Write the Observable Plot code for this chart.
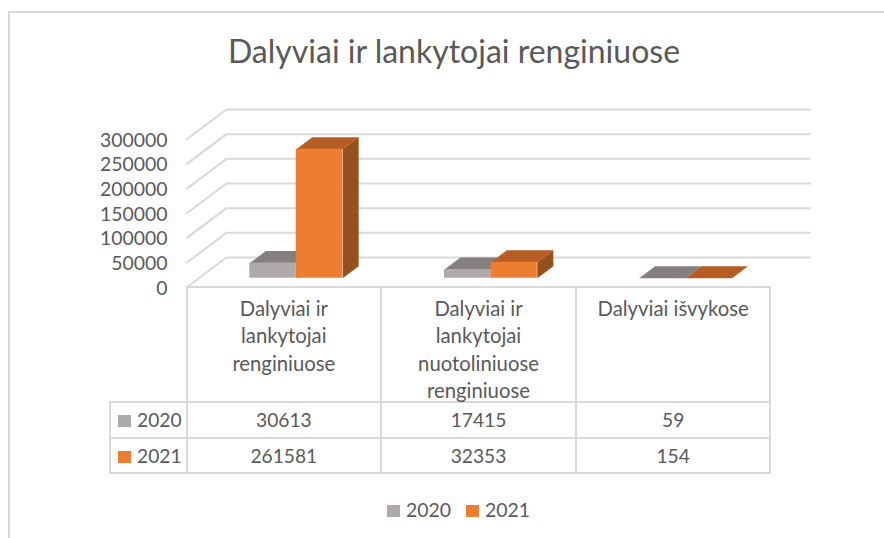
<!DOCTYPE html>
<html>
<head>
<meta charset="utf-8">
<script src="https://cdn.jsdelivr.net/npm/d3@7"></script>
<script src="https://cdn.jsdelivr.net/npm/@observablehq/plot@0.6"></script>
<style>
  html, body { margin: 0; padding: 0; background: #fff; }
  #chart { position: relative; width: 884px; height: 538px; overflow: hidden; font-family: Lato, sans-serif; color: #595959; }
  #frame { position: absolute; left: 8px; top: 11px; width: 900px; height: 600px; border: 2px solid #d9d9d9; box-sizing: border-box; }
  #title { position: absolute; left: 0; top: 31px; width: 908px; text-align: center; font-size: 32px; line-height: 40px; }
  #plot { position: absolute; left: 0; top: 0; }
  #plot svg { overflow: visible; display: block; }
  table { position: absolute; left: 109px; top: 286px; border-collapse: collapse; table-layout: fixed; width: 660.5px; font-size: 19.2px; }
  td { border: 2px solid #d9d9d9; text-align: center; padding: 0; height: 35.5px; box-sizing: border-box; }
  td.blank { border: none; border-right: 2px solid #d9d9d9; border-bottom: 2px solid #d9d9d9; }
  td.cat { height: 113px; vertical-align: top; font-size: 20.3px; }
  td.cat div { height: 106px; padding-top: 7px; white-space: pre-line; line-height: 27.3px; overflow: visible; }
  td.key { text-align: left; padding-left: 7px; white-space: nowrap; }
  .sw { display: inline-block; width: 13px; height: 12px; margin-right: 6px; }
  #legend { position: absolute; left: 387px; top: 498px; font-size: 19.4px; line-height: 24px; white-space: nowrap; }
  #legend span.item { margin-right: 15px; }
</style>
</head>
<body>
<div id="chart">
  <div id="frame"></div>
  <div id="title"></div>
  <div id="plot"></div>
  <div id="tableHost"></div>
  <div id="legend"></div>
</div>
<script>
const chartTitle = "Dalyviai ir lankytojai renginiuose";
const categories = [
  "Dalyviai ir\nlankytojai\nrenginiuose",
  "Dalyviai ir\nlankytojai\nnuotoliniuose\nrenginiuose",
  "Dalyviai išvykose"
];
const seriesNames = ["2020", "2021"];
const values2020 = [30613, 17415, 59];
const values2021 = [261581, 32353, 154];
const yTicks = [0, 50000, 100000, 150000, 200000, 250000, 300000];

const seriesValues = [values2020, values2021];
const frontColors = ["#aeaaaa", "#ed7d31"];
const topColors = ["#84807f", "#b55d22"];
const sideColors = ["#6e6b6b", "#96501c"];

// Oblique projection of the 3-D box, in data units of the two scales
const depthX = 0.2055, depthY = 60800;
const barW = 0.2385, barStart = 0.2615, dFront = 0.31, dBack = 0.71, wallEnd = 3.21;
const px = (x, d) => x + d * depthX;
const py = (v, d) => v + d * depthY;

const gridColor = "#d9d9d9";
const marks = [
  Plot.ruleY(yTicks, {y: d => py(d, 1), x1: depthX, x2: wallEnd, stroke: gridColor, strokeWidth: 2}),
  Plot.link(yTicks, {x1: 0, y1: d => d, x2: depthX, y2: d => py(d, 1), stroke: gridColor, strokeWidth: 2})
];

seriesValues.forEach((vals, s) => {
  const boxes = vals.map((v, i) => {
    const x0 = i + barStart + s * barW;
    return {i, v, x0, x1: x0 + barW};
  });
  const top = boxes.flatMap(b => [
    {id: b.i, x: px(b.x0, dFront), y: py(b.v, dFront)},
    {id: b.i, x: px(b.x1, dFront), y: py(b.v, dFront)},
    {id: b.i, x: px(b.x1, dBack), y: py(b.v, dBack)},
    {id: b.i, x: px(b.x0, dBack), y: py(b.v, dBack)}
  ]);
  const side = boxes.flatMap(b => [
    {id: b.i, x: px(b.x1, dFront), y: py(0, dFront)},
    {id: b.i, x: px(b.x1, dFront), y: py(b.v, dFront)},
    {id: b.i, x: px(b.x1, dBack), y: py(b.v, dBack)},
    {id: b.i, x: px(b.x1, dBack), y: py(0, dBack)}
  ]);
  marks.push(
    Plot.line(top, {x: "x", y: "y", z: "id", fill: topColors[s], stroke: "none"}),
    Plot.line(side, {x: "x", y: "y", z: "id", fill: sideColors[s], stroke: "none"}),
    Plot.rect(boxes, {
      x1: b => px(b.x0, dFront), x2: b => px(b.x1, dFront),
      y1: () => py(0, dFront), y2: b => py(b.v, dFront),
      fill: frontColors[s]
    })
  );
});

marks.push(Plot.axisY(yTicks, {
  tickSize: 0, tickPadding: 19, fontSize: 19.4, fill: "#595959", label: null,
  tickFormat: d => String(d), dy: 1
}));

const plot = Plot.plot({
  width: 884, height: 300,
  marginLeft: 186, marginRight: 114, marginTop: 139, marginBottom: 13,
  style: {background: "transparent", fontFamily: "Lato, sans-serif", overflow: "visible"},
  x: {domain: [0, 3], axis: null},
  y: {domain: [0, 300000], axis: null},
  marks
});
document.getElementById("plot").appendChild(plot);

document.getElementById("title").textContent = chartTitle;

// Data table below the plot
const table = d3.select("#tableHost").append("table");
const cg = table.append("colgroup");
cg.append("col").style("width", "76.5px");
categories.forEach(() => cg.append("col").style("width", "194.67px"));
const head = table.append("tr");
head.append("td").attr("class", "blank");
categories.forEach(c => head.append("td").attr("class", "cat").append("div").text(c));
seriesNames.forEach((name, s) => {
  const row = table.append("tr");
  const key = row.append("td").attr("class", "key");
  key.append("span").attr("class", "sw").style("background", frontColors[s]);
  key.append("span").text(name);
  seriesValues[s].forEach(v => row.append("td").text(v));
});

// Legend
const legend = d3.select("#legend");
seriesNames.forEach((name, s) => {
  const item = legend.append("span").attr("class", "item");
  item.append("span").attr("class", "sw").style("background", frontColors[s]);
  item.append("span").text(name);
});
</script>
</body>
</html>
